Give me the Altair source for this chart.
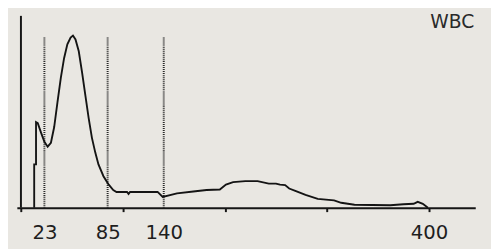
import altair as alt
import pandas as pd

# WBC histogram trace (size in fL, height above baseline in arbitrary units)
curve_fl = [13.0, 13.0, 14.8, 14.8, 16.5, 19.8, 23.0, 26.2, 29.4, 32.6, 35.8, 39.1,
            42.3, 45.5, 48.7, 51.0, 53.5, 56.7, 60.0, 63.2, 66.4, 69.6, 72.9, 76.0,
            80.9, 85.7, 90.5, 93.7, 104.0, 105.5, 107.0, 134.0, 139.0, 153.0, 169.0,
            182.0, 195.0, 201.0, 208.0, 220.0, 232.0, 243.0, 250.0, 254.0, 259.0,
            263.0, 269.0, 279.0, 291.0, 307.0, 314.0, 327.0, 362.0, 375.0, 385.0,
            389.0, 394.0, 399.0]
curve_h = [0, 44, 44, 87, 86, 76, 67, 62, 66, 82, 107, 132,
           152, 166, 173, 175, 171, 159, 137, 114, 91, 71, 56, 44,
           32, 24, 18, 16, 16, 14, 16, 16, 11, 14.5, 16.5,
           18, 18.5, 23.5, 26, 27, 27, 24.5, 24.5, 23.5, 23,
           19.5, 17, 13, 9, 7.5, 5, 3, 2.5, 3.5, 4,
           6, 4, 0]

# discriminator lines
marker_fl = [23, 85, 140]
marker_top = [173, 173, 173]

# axis
tick_values = [0, 23, 85, 100, 140, 200, 300, 400]
label_values = [23, 85, 140, 400]
yaxis_fl = [0]
yaxis_top = [195]

title_text = ["WBC"]

curve_df = pd.DataFrame({"i": list(range(len(curve_fl))), "fl": curve_fl, "h": curve_h})
marker_df = pd.DataFrame({"fl": marker_fl, "y0": [0] * len(marker_fl), "y1": marker_top})
yaxis_df = pd.DataFrame({"fl": yaxis_fl, "y0": [0], "y1": yaxis_top})
text_df = pd.DataFrame({"t": title_text})

xscale = alt.Scale(domain=[-4, 445.4], nice=False, zero=False)
yscale = alt.Scale(domain=[0, 199], nice=False, zero=False)

label_expr = "indexof([" + ",".join(str(v) for v in label_values) + "], datum.value) >= 0 ? datum.label : ''"

xaxis = alt.Axis(
    values=tick_values,
    labelExpr=label_expr,
    tickOpacity={"condition": {"test": "datum.value % 100 == 0", "value": 1}, "value": 0},
    grid=False,
    domainColor="#161616",
    domainWidth=2,
    tickColor="#161616",
    tickWidth=2,
    tickSize=4,
    labelFont="DejaVu Sans",
    labelFontSize=20,
    labelColor="#1e1e1e",
    labelPadding=11,
    labelOverlap=False,
    labelFlush=False,
    title=None,
)

line = alt.Chart(curve_df).mark_line(color="#141414", strokeWidth=1.9).encode(
    x=alt.X("fl:Q", scale=xscale, axis=xaxis),
    y=alt.Y("h:Q", scale=yscale, axis=None),
    order="i:Q",
)

markers = alt.Chart(marker_df).mark_rule(color="#2a2a2a", strokeWidth=2, strokeDash=[1, 1]).encode(
    x=alt.X("fl:Q", scale=xscale, axis=xaxis),
    y=alt.Y("y0:Q", scale=yscale, axis=None),
    y2="y1:Q",
)

yaxis_rule = alt.Chart(yaxis_df).mark_rule(color="#161616", strokeWidth=2).encode(
    x=alt.X("fl:Q", scale=xscale, axis=xaxis),
    y=alt.Y("y0:Q", scale=yscale, axis=None),
    y2="y1:Q",
)

label = alt.Chart(text_df).mark_text(
    align="right", baseline="alphabetic", font="DejaVu Sans", fontSize=19, color="#2a2a2a"
).encode(text="t:N", x=alt.value(465), y=alt.value(16))

chart = alt.layer(markers, yaxis_rule, line, label).properties(
    width=466,
    height=199,
    autosize=alt.AutoSizeParams(type="none"),
    padding={"left": 9, "top": 2, "right": 16, "bottom": 40},
    background="#e9e7e2",
).configure_view(stroke=None)

chart.save("out.html", embed_options={"renderer": "svg", "actions": False})
